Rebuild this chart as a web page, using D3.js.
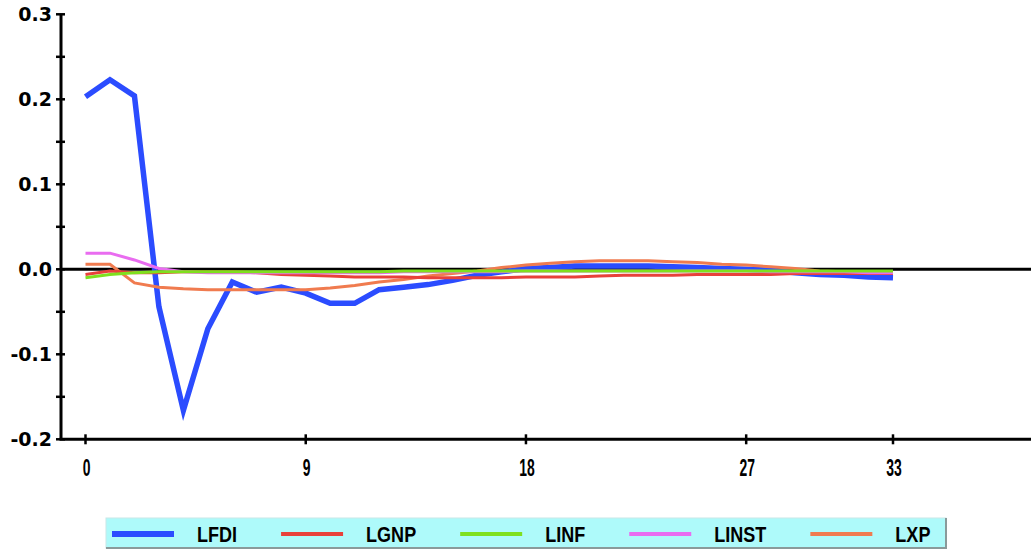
<!DOCTYPE html>
<html>
<head>
<meta charset="utf-8">
<script src="https://cdn.jsdelivr.net/npm/d3@7"></script>
<style>
  html, body { margin: 0; padding: 0; background: #fff; }
  svg { display: block; }
</style>
</head>
<body>
<script>
const width = 1031;
const height = 550;

// periods 0..33
const periods = d3.range(0, 34);

// responses
const lfdi = [0.203, 0.223, 0.204, -0.044, -0.166, -0.070, -0.015, -0.027, -0.021, -0.028,
  -0.040, -0.040, -0.024, -0.021, -0.018, -0.013, -0.007, -0.003, 0.001, 0.002,
  0.004, 0.004, 0.004, 0.004, 0.003, 0.002, 0.001, 0.000, -0.001, -0.004,
  -0.006, -0.007, -0.009, -0.010];
const lgnp = [-0.006, -0.002, -0.004, -0.004, -0.003, -0.003, -0.003, -0.004, -0.006, -0.007,
  -0.008, -0.009, -0.009, -0.009, -0.010, -0.010, -0.010, -0.010, -0.009, -0.009,
  -0.009, -0.008, -0.007, -0.007, -0.007, -0.006, -0.006, -0.006, -0.006, -0.005,
  -0.005, -0.005, -0.005, -0.005];
const linf = [-0.010, -0.006, -0.004, -0.003, -0.003, -0.003, -0.003, -0.003, -0.003, -0.003,
  -0.003, -0.003, -0.003, -0.002, -0.002, -0.002, -0.002, -0.002, -0.002, -0.002,
  -0.002, -0.002, -0.002, -0.002, -0.002, -0.002, -0.002, -0.002, -0.002, -0.002,
  -0.002, -0.002, -0.002, -0.002];
const linst = [0.019, 0.019, 0.011, 0.001, -0.003, -0.004, -0.004, -0.004, -0.004, -0.004,
  -0.004, -0.004, -0.004, -0.003, -0.003, -0.003, -0.003, -0.003, -0.002, -0.002,
  -0.002, -0.002, -0.002, -0.002, -0.002, -0.002, -0.002, -0.002, -0.003, -0.003,
  -0.003, -0.003, -0.004, -0.004];
const lxp = [0.006, 0.006, -0.016, -0.021, -0.023, -0.024, -0.024, -0.024, -0.024, -0.024,
  -0.022, -0.019, -0.015, -0.012, -0.008, -0.005, -0.002, 0.002, 0.005, 0.007,
  0.009, 0.010, 0.010, 0.010, 0.009, 0.008, 0.006, 0.005, 0.003, 0.001,
  -0.002, -0.003, -0.004, -0.005];

const seriesNames = ["LFDI", "LGNP", "LINF", "LINST", "LXP"];
const seriesValues = [lfdi, lgnp, linf, linst, lxp];
const seriesColors = ["#2b4cff", "#e8413a", "#7fe01e", "#e96cf0", "#f07b4f"];
const seriesWidths = [5.5, 3, 3, 3, 3];

const xTicks = [0, 9, 18, 27, 33];
const yTicks = [-0.2, -0.1, 0.0, 0.1, 0.2, 0.3];
const yMinorTicks = [-0.15, -0.05, 0.05, 0.15, 0.25];

const x = d3.scaleLinear().domain([0, 33]).range([85.5, 893]);
const y = d3.scaleLinear().domain([-0.2, 0.3]).range([439.3, 14.3]);

const axisX = 61;      // y axis position
const axisY = 439.3;   // x axis position
const narrowFont = "Liberation Sans, Arial, sans-serif";

const svg = d3.select("body")
  .append("svg")
  .attr("width", width)
  .attr("height", height);

// zero line
svg.append("line")
  .attr("x1", axisX).attr("x2", width)
  .attr("y1", y(0)).attr("y2", y(0))
  .attr("stroke", "#000").attr("stroke-width", 3);

// series (blue first, thin lines on top)
const line = d3.line()
  .x((d, i) => x(periods[i]))
  .y(d => y(d));

const order = [0, 4, 1, 3, 2];
order.forEach(k => {
  svg.append("path")
    .datum(seriesValues[k])
    .attr("d", line)
    .attr("fill", "none")
    .attr("stroke", seriesColors[k])
    .attr("stroke-width", seriesWidths[k])
    .attr("stroke-linejoin", "miter");
});

// y axis
svg.append("line")
  .attr("x1", axisX).attr("x2", axisX)
  .attr("y1", y(0.3)).attr("y2", axisY)
  .attr("stroke", "#000").attr("stroke-width", 3);

svg.selectAll(".ytick")
  .data(yTicks.concat(yMinorTicks))
  .enter()
  .append("line")
  .attr("class", "ytick")
  .attr("x1", 56).attr("x2", 65)
  .attr("y1", d => y(d)).attr("y2", d => y(d))
  .attr("stroke", "#000").attr("stroke-width", 2.5);

svg.selectAll(".ylabel")
  .data(yTicks)
  .enter()
  .append("text")
  .attr("class", "ylabel")
  .attr("x", 52)
  .attr("y", d => y(d))
  .attr("dy", "0.36em")
  .attr("text-anchor", "end")
  .attr("font-family", "DejaVu Sans, sans-serif")
  .attr("font-weight", "bold")
  .attr("font-size", 19)
  .text(d => (d < 0 ? "-" : "") + Math.abs(d).toFixed(1));

// x axis
svg.append("line")
  .attr("x1", axisX - 1.5).attr("x2", width)
  .attr("y1", axisY).attr("y2", axisY)
  .attr("stroke", "#000").attr("stroke-width", 3);

svg.selectAll(".xtick")
  .data(xTicks)
  .enter()
  .append("line")
  .attr("class", "xtick")
  .attr("x1", d => x(d)).attr("x2", d => x(d))
  .attr("y1", axisY - 5).attr("y2", axisY + 5)
  .attr("stroke", "#000").attr("stroke-width", 2.5);

svg.selectAll(".xlabel")
  .data(xTicks)
  .enter()
  .append("text")
  .attr("class", "xlabel")
  .attr("text-anchor", "middle")
  .attr("font-family", narrowFont)
  .attr("font-weight", "bold")
  .attr("font-size", 24)
  .attr("transform", d => `translate(${x(d) + 1},476) scale(0.58,1)`)
  .text(d => d);

// legend
const legend = svg.append("g").attr("class", "legend");
legend.append("rect")
  .attr("x", 106).attr("y", 518)
  .attr("width", 840).attr("height", 30)
  .attr("fill", "#aefafa")
  .attr("stroke", "#c8e8e8").attr("stroke-width", 1);
legend.append("line")
  .attr("x1", 106).attr("x2", 946).attr("y1", 548).attr("y2", 548)
  .attr("stroke", "#8a9a9a").attr("stroke-width", 2);
legend.append("line")
  .attr("x1", 946).attr("x2", 946).attr("y1", 518).attr("y2", 549)
  .attr("stroke", "#8a9a9a").attr("stroke-width", 2);

const legendScale = 0.82;
let lx = 112;
seriesNames.forEach((name, k) => {
  legend.append("line")
    .attr("x1", lx).attr("x2", lx + 62)
    .attr("y1", 534).attr("y2", 534)
    .attr("stroke", seriesColors[k])
    .attr("stroke-width", k === 0 ? 6 : 4);
  const t = legend.append("text")
    .attr("transform", `translate(${lx + 85},542) scale(${legendScale},1)`)
    .attr("font-family", narrowFont)
    .attr("font-weight", "bold")
    .attr("font-size", 22)
    .text(name);
  const w = t.node().getComputedTextLength() * legendScale;
  lx = lx + 85 + w + 44;
});
</script>
</body>
</html>
